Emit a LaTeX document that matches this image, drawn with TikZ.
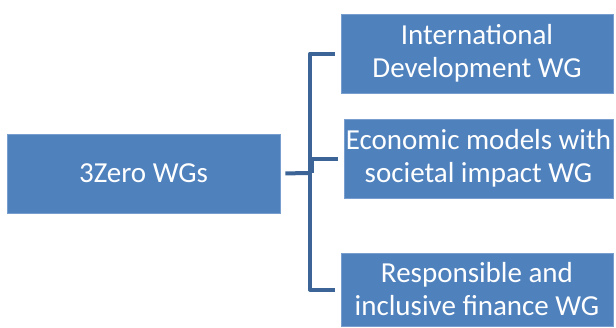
\documentclass[tikz,border=0pt]{standalone}
\usepackage{fontspec}
\setmainfont{Carlito}
\definecolor{boxfill}{RGB}{79,129,189}
\definecolor{boxedge}{RGB}{120,158,208}
\definecolor{connc}{RGB}{60,100,150}
\begin{document}
\begin{tikzpicture}[x=1pt,y=1pt,
  wgbox/.style={draw=boxedge, line width=0.8pt, fill=boxfill, text=white, align=center,
    inner sep=0pt, font=\fontsize{29}{33}\selectfont},
  conn/.style={draw=connc, line width=4pt, line join=round}]
\useasboundingbox (0,0) rectangle (616,-327);
\node[wgbox, minimum width=273pt, minimum height=79pt] (L) at (143.5,-173.5) {3Zero WGs};
\node[wgbox, minimum width=272pt, minimum height=79pt] (A) at (477,-53.5) {International\\Development WG};
\node[wgbox, minimum width=269pt, minimum height=79pt] (B) at (478.5,-158.5) {Economic models with\\societal impact WG};
\node[wgbox, minimum width=272pt, minimum height=73pt] (C) at (477,-289.5) {Responsible and\\inclusive finance WG};
\coordinate (j) at (310,-173);
\coordinate (jm) at (312,-173);
\draw[conn, shorten <=5pt] (L.east) -- (j);
\draw[conn, shorten <=6pt, shorten >=6pt] (A.west) -| (j) |- (C.west);
\draw[conn, shorten >=6pt] (jm) |- (B.west);
\end{tikzpicture}
\end{document}
